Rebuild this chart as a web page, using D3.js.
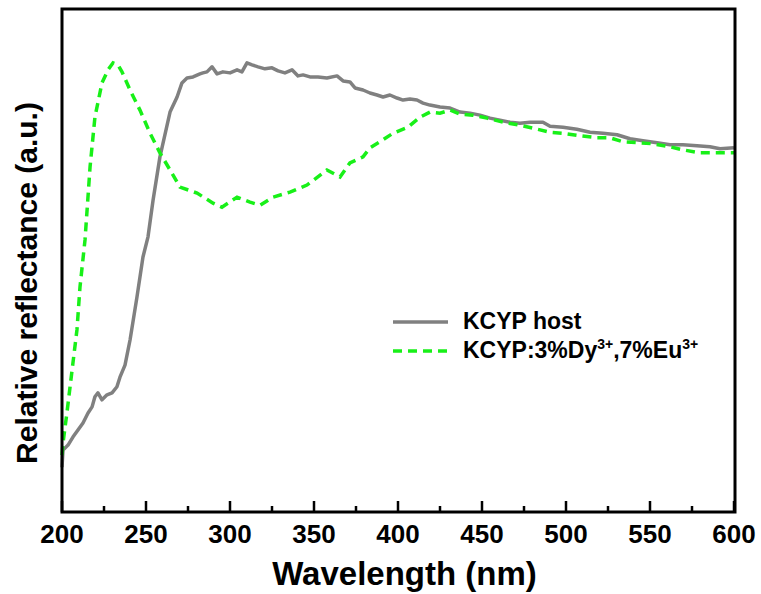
<!DOCTYPE html>
<html><head><meta charset="utf-8">
<script src="https://cdn.jsdelivr.net/npm/d3@7/dist/d3.min.js"></script>
<style>body{margin:0;background:#fff}svg{display:block}text{font-family:"Liberation Sans",Arial,sans-serif;font-weight:bold;fill:#000}</style>
</head><body><svg id="c" width="761" height="594"></svg>
<script>
// Data (wavelength in nm, relative reflectance in a.u., 0-100 scale)
const hostWavelength = [200,200.6,203.6,206.5,209.5,212.5,215.5,217.9,219.6,221.4,223.8,226.8,229.8,232.7,234.5,237.5,240.5,244.6,248.2,251.2,254.2,258.3,264.3,268.5,271.4,274.4,278,282.1,283.9,286.3,289.3,292.3,295.8,300,304.2,307.1,310.1,313.1,316.7,320.8,325,328.6,332.7,336.9,340.5,343.5,347.6,352.4,357.7,363.7,367.3,371.4,374.4,379.2,383.3,387.5,391.1,395.2,399.4,403,407.1,411.3,414.9,419,425,431,436.9,442.9,448.8,454.8,460.7,466.7,472.6,478.6,486.3,490.5,498.2,506.5,514.3,522,530.4,538.1,545.8,554.2,561.9,569.6,578,585.7,591.7,600];
const hostReflectance = [8.9,12.3,13.3,14.9,16.3,17.7,19.7,20.9,22.9,23.7,22.3,23.3,23.7,24.9,26.8,29.2,34.2,42.7,50.7,54.7,62.0,70.6,79.5,82.5,85.3,86.3,86.5,87.1,87.3,87.5,88.5,87.1,87.5,87.3,87.9,87.5,89.3,88.9,88.5,88.1,88.3,87.7,87.3,87.9,86.7,86.9,86.5,86.5,86.3,86.7,85.7,85.5,84.3,83.9,83.3,82.9,82.5,82.9,82.3,81.9,82.1,81.9,81.3,80.9,80.5,80.3,79.5,79.3,78.9,78.3,77.9,77.5,77.3,77.5,77.5,76.7,76.5,76.1,75.5,75.3,75.0,74.2,73.8,73.4,73.0,73.0,72.8,72.6,72.2,72.4];
const dopedWavelength = [200,200.6,203,204.8,206.5,208.9,210.7,213.7,216.7,219.6,223.8,227.4,230.4,233.3,235.7,240.5,246.4,252.4,258.3,264.3,270.2,280.4,289.9,295.2,304.2,311.9,317.9,325.6,335.7,345.8,357.7,365.5,371.4,379.2,383.3,391.1,397,405.9,413.1,419,425,431,436.9,444.6,453,462.5,472.6,480.4,490.5,498.2,508.3,518.5,526.2,533.9,544,551.8,561.9,569.6,579.8,589.9,600];
const dopedReflectance = [11.3,13.7,19.9,24.9,29.6,36.2,44.7,54.1,68.6,78.5,85.3,87.9,89.3,88.9,87.5,83.9,79.9,75.3,71.4,68.0,64.6,63.4,61.4,60.6,62.6,61.6,61.0,62.6,63.6,65.0,68.0,66.6,69.4,70.6,72.4,74.0,75.3,76.5,78.5,79.5,79.3,79.9,79.1,78.9,78.3,77.5,76.9,76.3,75.5,75.3,74.8,74.4,74.4,73.6,73.4,73.2,72.6,72.0,71.4,71.4,71.4];
const xTickValues = [200,250,300,350,400,450,500,550,600];
const seriesNames = ["KCYP host","KCYP:3%Dy3+,7%Eu3+"];

const svg = d3.select("#c");
const L=62, R=735, T=9, B=512;
const x = d3.scaleLinear().domain([200,600]).range([L,734]);
const y = d3.scaleLinear().domain([0,100]).range([B,T]);

const host = hostWavelength.map((w,i)=>[w,hostReflectance[i]]);
const doped = dopedWavelength.map((w,i)=>[w,dopedReflectance[i]]);
const line = d3.line().x(d=>x(d[0])).y(d=>y(d[1]));

svg.append("path").datum(host).attr("d",line).attr("fill","none")
  .attr("stroke","#808080").attr("stroke-width",3.5).attr("stroke-linejoin","round");
svg.append("path").datum(doped).attr("d",line).attr("fill","none")
  .attr("stroke","#18f018").attr("stroke-width",3.5).attr("stroke-dasharray","9,6");

// Frame
svg.append("rect").attr("x",L).attr("y",T).attr("width",R-L).attr("height",B-T)
  .attr("fill","none").attr("stroke","#000").attr("stroke-width",3);

// Bottom axis with inward ticks
const minor = d3.range(225,600,50);
const gx = svg.append("g").attr("transform",`translate(0,${B})`);
gx.selectAll("line.maj").data(xTickValues).join("line")
  .attr("x1",d=>x(d)).attr("x2",d=>x(d)).attr("y1",0).attr("y2",-11)
  .attr("stroke","#000").attr("stroke-width",2.5);
gx.selectAll("line.min").data(minor).join("line")
  .attr("x1",d=>x(d)).attr("x2",d=>x(d)).attr("y1",0).attr("y2",-6)
  .attr("stroke","#000").attr("stroke-width",2.5);
gx.selectAll("text").data(xTickValues).join("text")
  .attr("x",d=>x(d)).attr("y",31).attr("text-anchor","middle")
  .style("font-size","26px").text(d=>d);

// Axis titles
svg.append("text").attr("x",(L+R)/2+6).attr("y",585).attr("text-anchor","middle")
  .style("font-size","33px").text("Wavelength (nm)");
svg.append("text").attr("transform","translate(37,283) rotate(-90)")
  .attr("text-anchor","middle").style("font-size","30px").text("Relative reflectance (a.u.)");

// Legend
const lg = svg.append("g");
lg.append("line").attr("x1",393).attr("x2",448).attr("y1",322).attr("y2",322)
  .attr("stroke","#808080").attr("stroke-width",3.5);
lg.append("line").attr("x1",393).attr("x2",448).attr("y1",351).attr("y2",351)
  .attr("stroke","#18f018").attr("stroke-width",3.5).attr("stroke-dasharray","9,6");
lg.append("text").attr("x",463).attr("y",329).style("font-size","23px").text(seriesNames[0]);
const t2 = lg.append("text").attr("x",463).attr("y",358).style("font-size","23px");
t2.append("tspan").text("KCYP:3%Dy");
t2.append("tspan").attr("dy",-9).style("font-size","14px").text("3+");
t2.append("tspan").attr("dy",9).text(",7%Eu");
t2.append("tspan").attr("dy",-9).style("font-size","14px").text("3+");
</script></body></html>
